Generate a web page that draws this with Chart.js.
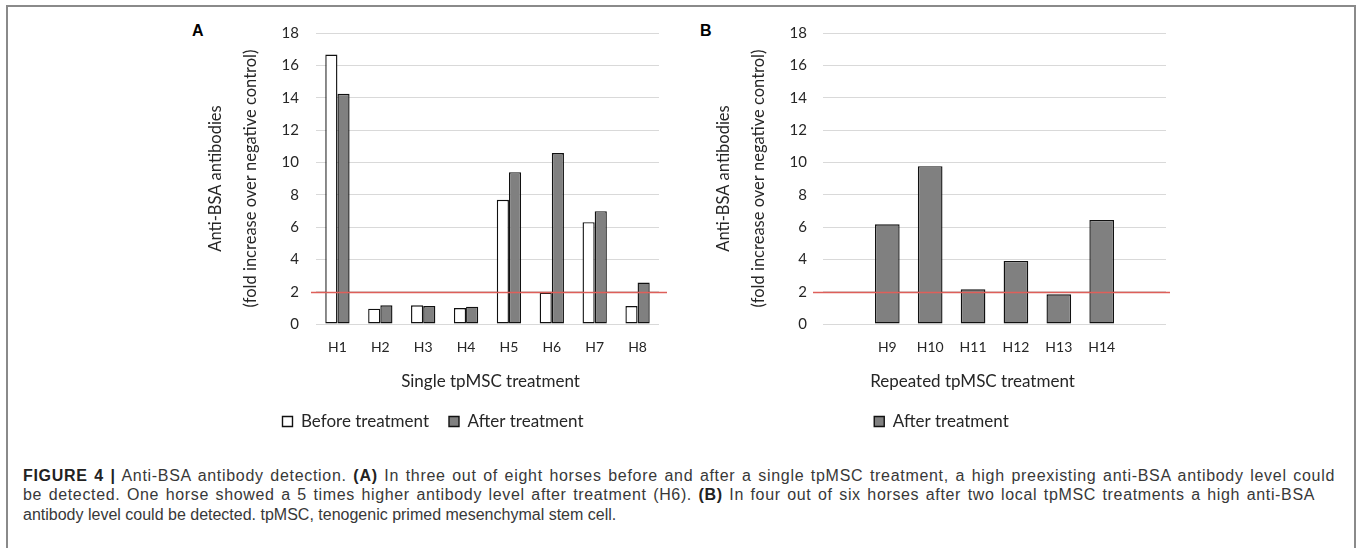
<!DOCTYPE html>
<html>
<head>
<meta charset="utf-8">
<script src="https://cdn.jsdelivr.net/npm/chart.js@4"></script>
<style>
  html, body { margin: 0; padding: 0; background: #fff; }
  body { width: 1357px; height: 548px; position: relative; overflow: hidden; }
  #frame { position: absolute; left: 6px; top: 5px; width: 1346px; height: 600px;
           border: 2px solid #8a8a8a; border-bottom: none; box-sizing: content-box; }
  .panel { position: absolute; top: 23px; font: bold 16px "Liberation Sans", Arial, sans-serif;
           line-height: 16px; color: #000; }
  canvas { position: absolute; top: 0; }
  #caption { position: absolute; left: 23px; top: 466px; font: 16px "Liberation Sans", Arial, sans-serif;
             line-height: 19.3px; color: #383838; white-space: nowrap; }
  #caption div { display: block; }
  #caption span.line { display: inline-block; }
  #caption b { color: #222; }
</style>
</head>
<body>
<div id="frame"></div>
<div class="panel" style="left:192px">A</div>
<div class="panel" style="left:700px">B</div>
<div style="position:absolute;left:202px;top:0;width:468px;height:440px"><canvas id="chartA" width="468" height="440" style="left:0"></canvas></div>
<div style="position:absolute;left:712px;top:0;width:462px;height:440px"><canvas id="chartB" width="462" height="440" style="left:0"></canvas></div>
<div id="caption">
  <div><span class="line" data-target="1312"><b>FIGURE 4 |</b> Anti-BSA antibody detection. <b>(A)</b> In three out of eight horses before and after a single tpMSC treatment, a high preexisting anti-BSA antibody level could</span></div>
  <div><span class="line" data-target="1292">be detected. One horse showed a 5 times higher antibody level after treatment (H6). <b>(B)</b> In four out of six horses after two local tpMSC treatments a high anti-BSA</span></div>
  <div><span class="line">antibody level could be detected. tpMSC, tenogenic primed mesenchymal stem cell.</span></div>
</div>
<script>
// ---- data ----
const categoriesA = ['H1', 'H2', 'H3', 'H4', 'H5', 'H6', 'H7', 'H8'];
const beforeA = [16.67, 0.95, 1.16, 0.99, 7.68, 1.94, 6.30, 1.11];
const afterA  = [14.24, 1.16, 1.11, 1.07, 9.39, 10.57, 6.98, 2.56];
const categoriesB = ['', 'H9', 'H10', 'H11', 'H12', 'H13', 'H14', ''];
const afterB = [null, 6.17, 9.76, 2.15, 3.90, 1.84, 6.44, null];
const threshold = 2;
const yMin = 0, yMax = 18, yStep = 2;
const yTitle = ['Anti-BSA antibodies', '', '(fold increase over negative control)'];
const xTitleA = 'Single tpMSC treatment';
const xTitleB = 'Repeated tpMSC treatment';
const legendBefore = 'Before treatment';
const legendAfter = 'After treatment';

const FONT = 'Lato';
const TEXT = '#262626';

// spread the first two caption lines to their widths in the figure
document.querySelectorAll('#caption span.line[data-target]').forEach(el => {
  el.style.wordSpacing = '1.5px';
  const target = +el.dataset.target;
  const natural = el.getBoundingClientRect().width;
  const chars = el.textContent.length;
  el.style.letterSpacing = ((target - natural) / chars) + 'px';
});

const refLine = {
  id: 'refLine',
  afterDatasetsDraw(chart, args, o) {
    const {ctx, chartArea, scales} = chart;
    const py = Math.round(scales.y.getPixelForValue(o.value)) + 0.5;
    ctx.save();
    ctx.strokeStyle = o.color; ctx.lineWidth = o.width;
    ctx.beginPath();
    ctx.moveTo(chartArea.left - o.extLeft, py);
    ctx.lineTo(chartArea.right + o.extRight, py);
    ctx.stroke();
    ctx.restore();
  }
};
const xTitle = {
  id: 'xTitle',
  afterDraw(chart, args, o) {
    const {ctx, chartArea} = chart;
    ctx.save();
    ctx.font = o.size + 'px ' + FONT;
    ctx.fillStyle = TEXT;
    ctx.textAlign = 'center'; ctx.textBaseline = 'middle';
    ctx.fillText(o.text, (chartArea.left + chartArea.right) / 2 + o.dx, chartArea.bottom + o.dy);
    ctx.restore();
  }
};

function makeOptions(cfg) {
  return {
    responsive: false,
    animation: false,
    layout: { padding: { left: 5, right: cfg.padRight, top: 33, bottom: 0 } },
    plugins: {
      tooltip: { enabled: false },
      legend: {
        position: 'bottom',
        align: 'center',
        labels: { boxWidth: 10, boxHeight: 10, padding: 20, color: TEXT, font: { family: FONT, size: 17 } }
      },
      refLine: { value: threshold, color: '#de5f5a', width: 1.5, extLeft: cfg.extLeft, extRight: cfg.extRight },
      xTitle: { text: cfg.xTitle, size: 17, dx: cfg.titleDx, dy: 58 }
    },
    scales: {
      x: {
        grid: { display: false, drawTicks: false },
        border: { display: false },
        ticks: { padding: 15, color: TEXT, font: { family: FONT, size: 14 }, autoSkip: false, maxRotation: 0 },
        afterFit(s) { s.height = 69; }
      },
      y: {
        min: yMin, max: yMax,
        grid: { color: '#d9d9d9', lineWidth: 1, drawTicks: false },
        border: { display: false },
        ticks: { stepSize: yStep, padding: cfg.tickPad, color: TEXT, font: { family: FONT, size: 15 } },
        title: { display: true, text: yTitle, color: TEXT,
                 font: { family: FONT, size: 16.5, lineHeight: 1.07 },
                 padding: { top: cfg.titlePad, bottom: 0 } },
        afterFit(s) { s.width = cfg.yWidth; }
      }
    }
  };
}

function draw() {
  new Chart(document.getElementById('chartA'), {
    type: 'bar',
    data: {
      labels: categoriesA,
      datasets: [
        { label: legendBefore, data: beforeA, backgroundColor: '#ffffff', borderColor: '#111111',
          borderWidth: 1.4, borderSkipped: false, categoryPercentage: 0.567, barPercentage: 1 },
        { label: legendAfter, data: afterA, backgroundColor: '#808080', borderColor: '#111111',
          borderWidth: 1.4, borderSkipped: false, categoryPercentage: 0.567, barPercentage: 1 }
      ]
    },
    options: makeOptions({ padRight: 11, extLeft: 5, extRight: 8, xTitle: xTitleA, titleDx: 3,
                           tickPad: 17, titlePad: 0, yWidth: 109 }),
    plugins: [refLine, xTitle]
  });
  new Chart(document.getElementById('chartB'), {
    type: 'bar',
    data: {
      labels: categoriesB,
      datasets: [
        { label: legendAfter, data: afterB, backgroundColor: '#808080', borderColor: '#111111',
          borderWidth: 1.4, borderSkipped: false, categoryPercentage: 0.575, barPercentage: 1 }
      ]
    },
    options: makeOptions({ padRight: 8, extLeft: 10, extRight: 4, xTitle: xTitleB, titleDx: -22,
                           tickPad: 16, titlePad: -2.5, yWidth: 106 }),
    plugins: [refLine, xTitle]
  });
}
if (document.fonts && document.fonts.load) {
  Promise.all([document.fonts.load('15px Lato'), document.fonts.load('bold 15px "Liberation Sans"')])
    .then(draw, draw);
} else { draw(); }
</script>
</body>
</html>
